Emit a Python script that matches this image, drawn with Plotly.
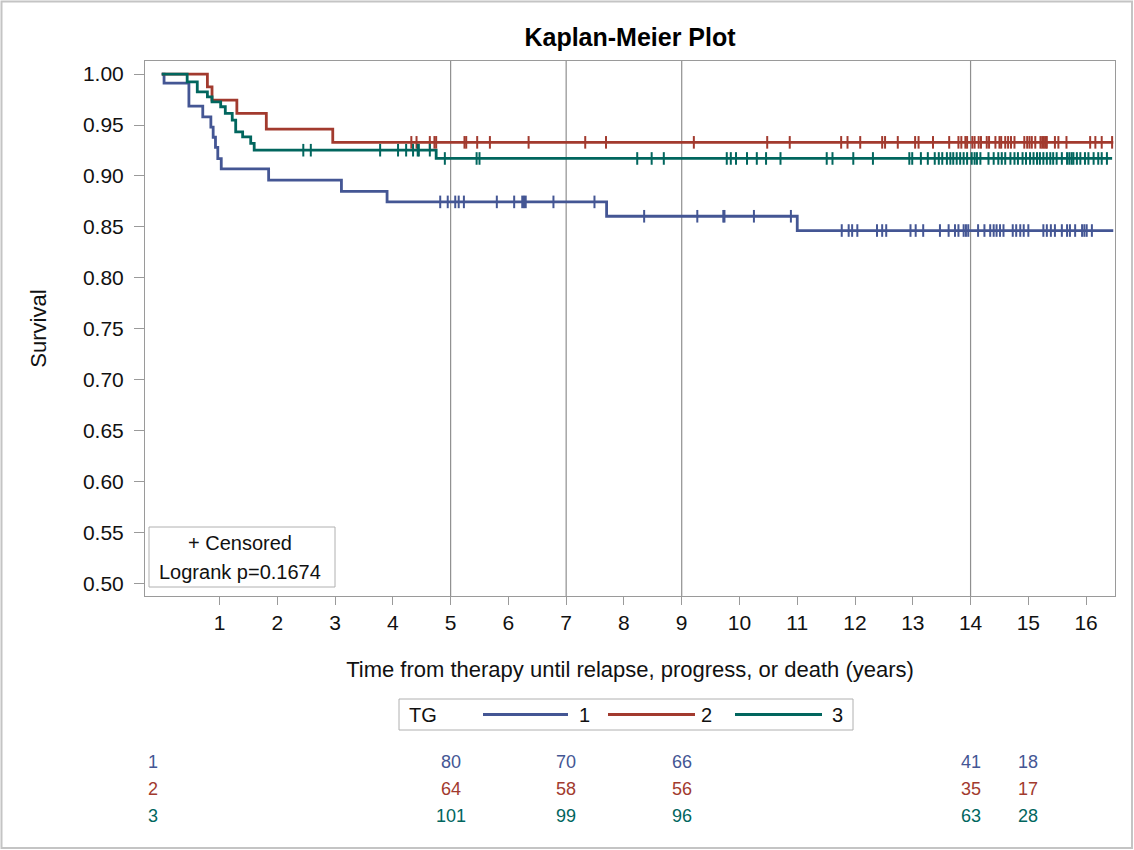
import numpy as np
import plotly.graph_objects as go

# ---------------- data ----------------
groups = ["1", "2", "3"]
colors = ["#445694", "#A23A2E", "#01665E"]

blue_t = [0, 0.04, 0.47, 0.71, 0.85, 0.89, 0.93, 0.97, 1.03, 1.85, 3.11, 3.90, 7.70, 11.00, 16.47]
blue_s = [1.0, 0.991, 0.9686, 0.958, 0.948, 0.938, 0.928, 0.917, 0.907, 0.896, 0.885, 0.8746, 0.8605, 0.8465, 0.8465]

red_t = [0, 0.79, 0.87, 1.30, 1.81, 2.96, 16.47]
red_s = [1.0, 0.9875, 0.9745, 0.9614, 0.946, 0.933, 0.933]

green_t = [0, 0.44, 0.615, 0.79, 0.87, 1.02, 1.10, 1.22, 1.28, 1.40, 1.54, 1.60, 4.75, 16.45]
green_s = [1.0, 0.9924, 0.9826, 0.9777, 0.9728, 0.9679, 0.9614, 0.9548, 0.9433, 0.9384, 0.9319, 0.9253, 0.9172, 0.9172]

blue_cens = [4.82, 4.95, 5.08, 5.14, 5.23, 5.80, 6.10, 6.24, 6.27, 6.30, 6.78, 7.49, 8.35, 9.27, 9.72,
             9.74, 10.25, 10.89, 11.77, 11.89, 11.95, 12.04, 12.38, 12.47, 12.54, 12.96, 13.05, 13.18,
             13.47, 13.62, 13.73, 13.79, 13.88, 13.92, 13.96, 14.13, 14.24, 14.34, 14.40, 14.45, 14.51,
             14.57, 14.73, 14.79, 14.86, 14.92, 15.00, 15.26, 15.32, 15.39, 15.46, 15.58, 15.67, 15.72,
             15.81, 15.93, 15.97, 16.01, 16.10]
red_cens = [4.32, 4.41, 4.64, 4.72, 4.75, 5.24, 5.27, 5.46, 5.68, 6.35, 7.33, 7.69, 9.21, 10.48, 10.87,
            11.76, 11.87, 12.09, 12.47, 12.52, 12.74, 13.04, 13.10, 13.35, 13.63, 13.79, 13.84, 13.91,
            13.94, 14.03, 14.07, 14.14, 14.18, 14.28, 14.32, 14.43, 14.50, 14.53, 14.60, 14.65, 14.70,
            14.76, 14.93, 14.98, 15.02, 15.06, 15.12, 15.21, 15.24, 15.27, 15.30, 15.32, 15.46, 15.52,
            15.66, 16.07, 16.16, 16.27, 16.45]
green_cens = [2.45, 2.58, 3.78, 4.09, 4.23, 4.35, 4.43, 4.45, 4.64, 4.90, 5.45, 5.50, 8.23, 8.48, 8.69,
              9.78, 9.85, 9.94, 10.13, 10.30, 10.46, 10.71, 11.51, 11.61, 11.97, 12.31, 12.94, 12.99,
              13.14, 13.26, 13.38, 13.45, 13.51, 13.59, 13.65, 13.70, 13.76, 13.82, 13.88, 13.94, 14.02,
              14.07, 14.11, 14.17, 14.31, 14.40, 14.48, 14.54, 14.60, 14.69, 14.76, 14.82, 14.90, 14.96,
              15.03, 15.09, 15.15, 15.20, 15.26, 15.32, 15.38, 15.43, 15.49, 15.58, 15.67, 15.71, 15.75,
              15.78, 15.84, 15.90, 15.98, 16.04, 16.13, 16.21, 16.27, 16.36]

ref_times = [5, 7, 9, 14]
risk_times = [5, 7, 9, 14, 15]
risk_1 = [80, 70, 66, 41, 18]
risk_2 = [64, 58, 56, 35, 17]
risk_3 = [101, 99, 96, 63, 28]

y_ticks = [0.50, 0.55, 0.60, 0.65, 0.70, 0.75, 0.80, 0.85, 0.90, 0.95, 1.00]
x_ticks = list(range(1, 17))

FONT = "Liberation Sans, Arial, sans-serif"

# ---------------- geometry (pixels) ----------------
W, H = 1134, 850
L, R, T, B = 145, 1115, 61, 596
PW, PH = R - L, B - T


def px(x):
    return (x - L) / PW


def py(y):
    return (B - y) / PH


fig = go.Figure()

curves = [(blue_t, blue_s, blue_cens), (red_t, red_s, red_cens), (green_t, green_s, green_cens)]
for (t, s, c), g, col in zip(curves, groups, colors):
    fig.add_trace(go.Scatter(x=t, y=s, mode="lines", line=dict(color=col, width=2.8, shape="hv"),
                             name=g, showlegend=False, hoverinfo="skip"))
for (t, s, c), g, col in zip(curves, groups, colors):
    ta = np.array(t)
    sa = np.array(s)
    idx = np.searchsorted(ta, np.array(c), side="right") - 1
    fig.add_trace(go.Scatter(x=c, y=sa[idx], mode="markers",
                             marker=dict(symbol="line-ns", size=9, color=col,
                                         line=dict(color=col, width=2)),
                             name=g + " censored", showlegend=False, hoverinfo="skip"))

shapes = []
for rt in ref_times:
    shapes.append(dict(type="line", xref="x", yref="paper", x0=rt, x1=rt, y0=0, y1=1,
                       line=dict(color="#8f8f8f", width=1.2), layer="below"))

# inset box
shapes.append(dict(type="rect", xref="paper", yref="paper", x0=px(149), x1=px(335), y0=py(587), y1=py(527),
                   line=dict(color="#b0b0b0", width=1), fillcolor="white", layer="below"))
# legend box
shapes.append(dict(type="rect", xref="paper", yref="paper", x0=px(399), x1=px(853), y0=py(730), y1=py(699),
                   line=dict(color="#b0b0b0", width=1)))
leg_lines = [(483, 568), (608, 695), (735, 822)]
leg_labels_x = [584, 706, 837]
for (a, b), col in zip(leg_lines, colors):
    shapes.append(dict(type="line", xref="paper", yref="paper", x0=px(a), x1=px(b), y0=py(714.5), y1=py(714.5),
                       line=dict(color=col, width=3)))
# outer border
shapes.append(dict(type="rect", xref="paper", yref="paper", x0=px(1.5), x1=px(1132), y0=py(848), y1=py(1.5),
                   line=dict(color="#c4c4c4", width=2)))


def ann(text, x, y, size=20, color="#111", xref="paper"):
    return dict(text=text, xref=xref, yref="paper", x=x, y=y, xanchor="center", yanchor="middle",
                showarrow=False, font=dict(family=FONT, size=size, color=color))


annotations = [
    ann("+ Censored", px(240), py(543)),
    ann("Logrank p=0.1674", px(240), py(572)),
    ann("TG", px(422.5), py(714.5)),
]
for g, lx in zip(groups, leg_labels_x):
    annotations.append(ann(g, px(lx), py(714.5)))

row_y = [762, 789, 816]
for g, col, vals, ry in zip(groups, colors, [risk_1, risk_2, risk_3], row_y):
    annotations.append(ann(g, px(153), py(ry), size=18, color=col))
    for rt, v in zip(risk_times, vals):
        annotations.append(ann(str(v), rt, py(ry), size=18, color=col, xref="x"))

fig.update_layout(
    width=W, height=H,
    margin=dict(l=L, r=W - R, t=T, b=H - B),
    paper_bgcolor="white", plot_bgcolor="white",
    font=dict(family=FONT, size=20, color="#111"),
    title=dict(text="<b>Kaplan-Meier Plot</b>", x=px(630), xref="paper", y=1 - 37 / H, yref="container",
               xanchor="center", yanchor="middle", font=dict(family=FONT, size=25, color="#000")),
    shapes=shapes, annotations=annotations, showlegend=False,
)
fig.update_xaxes(range=[-0.29, 16.5], tickvals=x_ticks, ticks="outside", ticklen=8, tickcolor="#9a9a9a",
                 showline=True, linecolor="#9a9a9a", linewidth=1, mirror=True, showgrid=False, zeroline=False,
                 tickfont=dict(family=FONT, size=21, color="#111"),
                 title=dict(text="Time from therapy until relapse, progress, or death (years)",
                            font=dict(family=FONT, size=22, color="#111"), standoff=28))
fig.update_yaxes(range=[0.488, 1.0128], tickvals=y_ticks, tickformat=".2f", ticks="outside", ticklen=10,
                 tickcolor="#9a9a9a", showline=True, linecolor="#9a9a9a", linewidth=1, mirror=True,
                 showgrid=False, zeroline=False, ticklabelstandoff=6,
                 tickfont=dict(family=FONT, size=21, color="#111"),
                 title=dict(text="Survival", font=dict(family=FONT, size=22, color="#111"), standoff=30))

fig.write_html("out.html")
